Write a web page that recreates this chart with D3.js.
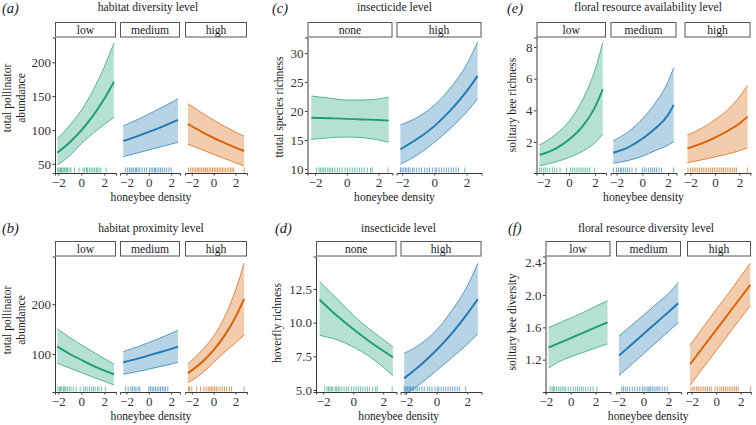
<!DOCTYPE html>
<html><head><meta charset="utf-8">
<script src="https://cdn.jsdelivr.net/npm/d3@7"></script>
<style>
body{margin:0;background:#fff}
svg{display:block;font-family:"Liberation Serif","Times New Roman",serif}
</style>
</head><body>
<svg id="chart" width="756" height="425"></svg>
<script>
// ---------- DATA ----------
const levels3 = ["low", "medium", "high"];
const levels2 = ["none", "high"];
const xTickVals = [-2, 0, 2];

// (a) habitat diversity level — total pollinator abundance
const aX   = [[-2.09,-1,0,1,2,2.84],[-2.29,-1,0,1,2,2.61],[-2.36,-1,0,1,2,2.8]];
const aFit = [[66.5,82,99.5,120.5,146,171.3],[83.8,91,97.1,103.6,110.4,114.8],[108.9,96.6,88.4,80.9,74,69]];
const aLo  = [[48.3,62,79.8,94.8,108.2,118.8],[60.6,66.2,70.5,74.9,79.2,81.8],[78.9,70.5,64,57.8,51.7,46.8]];
const aHi  = [[87.2,106.9,129,157.9,193.2,228.5],[105.9,115.5,123.5,132,140.5,146.2],[138.9,124.5,114.5,105.5,97,90.7]];
const aRug = [
  [-2.05,-1.95,-1.85,-1.78,-1.7,-1.6,-1.5,-1.42,-1.3,-1.2,-1.05,-0.9,-0.6,-0.2,0.15,0.3,0.45,0.55,0.7,0.85,1.0,1.15,1.3,1.4,1.55,1.7,2.15],
  [-2.1,-1.9,-1.75,-1.6,-1.5,-1.35,-1.2,-1.1,-0.95,-0.8,-0.6,-0.4,-0.2,0.05,0.2,0.35,0.5,0.6,0.75,0.9,1.05,1.2,1.4,1.6,1.8,2.0],
  [-2.3,-2.1,-1.95,-1.8,-1.65,-1.5,-1.4,-1.25,-1.1,-0.95,-0.8,-0.7,-0.55,-0.4,-0.25,-0.1,0.05,0.2,0.35,0.5,0.65,0.8,0.95,1.1,1.25,1.4,1.55,1.7,1.85,2.8]
];
const aYTicks = [50, 100, 150, 200];

// (b) habitat proximity level — total pollinator abundance
const bX   = [[-2.09,-1,0,1,2,2.84],[-2.29,-1,0,1,2,2.61],[-2.36,-1,0,1,2,2.8]];
const bFit = [[114.7,100,88,76.5,66.5,59.2],[83.3,90.5,97,103.5,110.3,114.7],[61.2,84.8,107.7,136.9,173.9,210.7]];
const bLo  = [[81.3,71.5,62.5,53.5,45,37.6],[59.2,64.5,69.5,74.5,79.5,83.3],[42.3,62.2,83,103.5,122.5,138.2]];
const bHi  = [[150.9,133,118.5,104.5,91,79.9],[104.6,114.5,123,132,141.5,147.7],[79.9,108.9,135.6,174,227.8,282.5]];
const bRug = [
  [-2.05,-1.9,-1.8,-1.7,-1.55,-1.45,-1.35,-1.2,-1.05,-0.9,-0.7,-0.45,-0.1,0.2,0.35,0.5,0.7,0.9,1.05,1.2,1.4,1.55,1.75,2.1],
  [-2.1,-1.85,-1.6,-1.45,-1.3,-1.15,-0.95,-0.8,0.0,0.15,0.3,0.45,0.6,0.75,0.9,1.05,1.2,1.35,1.5,1.7],
  [-2.3,-2.2,-2.0,-1.55,-1.2,-0.9,-0.7,-0.5,-0.35,-0.2,-0.05,0.1,0.25,0.4,0.6,0.8,1.0,1.2,1.45,1.65,2.8]
];
const bYTicks = [100, 200];

// (c) insecticide level — total species richness
const cX   = [[-2.24,-1,0,1,2,2.65],[-2.11,-1,0,1,2,2.69]];
const cFit = [[18.85,18.75,18.65,18.55,18.45,18.35],[13.4,15.3,17.4,20.1,23.4,26.08]];
const cLo  = [[15.1,15.4,15.5,15.4,15.0,14.6],[10.8,12.5,14.6,17.0,19.8,22.1]];
const cHi  = [[22.6,22.2,21.9,21.9,22.1,22.4],[17.6,19.0,21.0,24.0,28.0,31.9]];
const cRug = [
  [-1.9,-1.75,-1.65,-1.55,-1.45,-1.35,-1.2,-1.1,-1.0,-0.9,-0.75,-0.6,-0.45,-0.3,-0.1,0.05,0.2,0.35,0.5,0.65,0.8,0.95,1.1,1.3,1.5,1.6,2.6],
  [-2.1,-2.0,-1.9,-1.8,-1.7,-1.6,-1.5,-1.35,-1.25,-1.1,-0.95,-0.8,-0.6,-0.45,-0.3,-0.1,0.05,0.15,0.3,0.45,0.6,0.75,0.9,1.05,1.2,1.35,1.5,1.9]
];
const cYTicks = [10, 15, 20, 25, 30];

// (d) insecticide level — hoverfly richness
const dX   = [[-2.24,-1,0,1,2,2.65],[-2.11,-1,0,1,2,2.69]];
const dFit = [[11.7,10.43,9.52,8.68,7.91,7.43],[5.87,6.89,7.97,9.21,10.65,11.76]];
const dLo  = [[9.05,8.7,8.2,7.55,6.7,6.06],[4.63,5.5,6.45,7.4,8.4,9.16]];
const dHi  = [[13.04,11.7,10.55,9.6,8.75,8.21],[7.72,8.45,9.45,10.9,12.7,14.41]];
const dRug = [
  [-1.9,-1.75,-1.65,-1.55,-1.45,-1.35,-1.2,-1.1,-1.0,-0.9,-0.75,-0.6,-0.45,-0.3,-0.1,0.05,0.2,0.35,0.5,0.65,0.8,0.95,1.1,1.3,1.5,1.6,2.6],
  [-2.1,-2.0,-1.9,-1.8,-1.7,-1.6,-1.5,-1.35,-1.25,-1.1,-0.95,-0.8,-0.6,-0.45,-0.3,-0.1,0.05,0.15,0.3,0.45,0.6,0.75,0.9,1.05,1.2,1.35,1.5,1.9]
];
const dYTicks = [5, 7.5, 10, 12.5];

// (e) floral resource availability level — solitary bee richness
const eX   = [[-2.28,-1,0,1,2,2.6],[-2.25,-1,0,1,2,2.44],[-2.24,-1,0,1,2,2.66]];
const eFit = [[1.18,1.6,2.15,2.95,4.2,5.33],[1.32,1.7,2.2,2.85,3.7,4.34],[1.6,1.93,2.28,2.68,3.17,3.6]];
const eLo  = [[0.5,0.75,1.02,1.4,1.95,2.51],[0.65,0.85,1.1,1.45,1.8,2.02],[0.69,0.88,1.05,1.23,1.45,1.64]];
const eHi  = [[1.81,2.5,3.3,4.6,6.55,8.27],[2.08,2.7,3.45,4.45,5.8,6.69],[2.44,2.9,3.4,4.0,4.85,5.56]];
const eRug = [
  [-2.3,-2.15,-2.0,-1.85,-1.7,-1.5,-1.3,-1.15,-0.95,-0.7,-0.2,0.1,0.25,0.4,0.55,0.7,0.85,1.0,1.15,1.3,1.45,1.6,1.95],
  [-2.25,-2.0,-1.85,-1.7,-1.6,-1.45,-1.3,-1.15,-1.0,-0.8,-0.5,0.0,0.15,0.3,0.5,0.65,0.8,0.95,1.1,1.3,1.5,2.44],
  [-2.2,-2.0,-1.85,-1.7,-1.55,-1.4,-1.25,-1.1,-0.95,-0.8,-0.65,-0.5,-0.35,-0.2,-0.05,0.1,0.25,0.4,0.55,0.7,0.85,1.0,1.15,1.3,1.45,1.6,1.75,2.65]
];
const eYTicks = [2, 4, 6, 8];

// (f) floral resource diversity level — solitary bee diversity
const fX   = [[-1.79,-1,0,1,2,2.96],[-1.96,-1,0,1,2,2.78],[-2.13,-1,0,1,2,2.78]];
const fFit = [[1.349,1.401,1.467,1.533,1.599,1.663],[1.25,1.381,1.518,1.655,1.791,1.898],[1.143,1.369,1.569,1.769,1.969,2.125]];
const fLo  = [[1.094,1.17,1.235,1.29,1.345,1.394],[1.002,1.135,1.273,1.411,1.55,1.658],[0.887,1.113,1.313,1.513,1.713,1.868]];
const fHi  = [[1.596,1.65,1.715,1.785,1.86,1.93],[1.493,1.62,1.75,1.885,2.02,2.153],[1.382,1.615,1.82,2.02,2.23,2.393]];
const fRug = [
  [-1.65,-1.5,-1.4,-1.3,-1.15,-1.0,-0.85,-0.7,-0.55,-0.4,-0.2,0.0,0.2,0.4,0.55,0.7,0.85,1.0,1.2,1.4,1.6,1.8,2.1],
  [-1.75,-1.6,-1.45,-1.3,-1.1,-0.9,-0.7,-0.5,-0.3,-0.1,0.05,0.2,0.35,0.45,0.55,0.7,0.85,1.0,1.15,1.3,1.5,1.7,1.9],
  [-2.05,-1.9,-1.75,-1.6,-1.45,-1.3,-1.15,-1.0,-0.85,-0.7,-0.55,-0.4,-0.1,0.1,0.3,0.45,0.6,0.75,0.9,1.05,1.2,1.35,1.5,1.65,1.8,2.8]
];
const fYTicks = [1.2, 1.6, 2.0, 2.4];

// ---------- LAYOUT / STYLE ----------
const COLORS = {low:"#1b9e77", medium:"#1f78b4", high:"#d95f02"};
const COLORS2 = {none:"#1b9e77", high:"#1f78b4"};
const rows = [
  {stripTop:22, stripBot:37.5, bottom:173, titleY:11, letterY:13, xTitleY:201},
  {stripTop:241, stripBot:256.5, bottom:392, titleY:232, letterY:233, xTitleY:420}
];

const panels = [
  {letter:"a", row:0, title:"habitat diversity level", ylab:["total pollinator","abundance"], levels:levels3,
   X:aX, fit:aFit, lo:aLo, hi:aHi, rug:aRug, yTicks:aYTicks, fmt:d3.format("d"),
   facets:[[55,116],[120,180],[185,247]], xDom:[[-2.29,3.02],[-2.58,2.79],[-2.62,3.06]], yDom:[36.5,236.6],
   letterX:2, titleX:148, ylabX:[11,25], ylabY:98},
  {letter:"b", row:1, title:"habitat proximity level", ylab:["total pollinator","abundance"], levels:levels3,
   X:bX, fit:bFit, lo:bLo, hi:bHi, rug:bRug, yTicks:bYTicks, fmt:d3.format("d"),
   facets:[[55,116],[120,180],[185,247]], xDom:[[-2.29,3.02],[-2.58,2.79],[-2.62,3.06]], yDom:[23.5,296],
   letterX:2, titleX:151, ylabX:[11,25], ylabY:320},
  {letter:"c", row:0, title:"insecticide level", ylab:["ttotal species richness"], levels:levels2,
   X:cX, fit:cFit, lo:cLo, hi:cHi, rug:cRug, yTicks:cYTicks, fmt:d3.format("d"),
   facets:[[307.5,392.5],[396.5,481.5]], xDom:[[-2.48,2.89],[-2.35,2.93]], yDom:[9.3,32.7],
   letterX:272, titleX:394.5, ylabX:[283], ylabY:107},
  {letter:"d", row:1, title:"insecticide level", ylab:["hoverfly richness"], levels:levels2,
   X:dX, fit:dFit, lo:dLo, hi:dHi, rug:dRug, yTicks:dYTicks, fmt:d3.format(".1f"),
   facets:[[316,396.5],[400.5,481.5]], xDom:[[-2.48,2.89],[-2.35,2.93]], yDom:[4.85,14.91],
   letterX:275, titleX:398.5, ylabX:[281], ylabY:323},
  {letter:"e", row:0, title:"floral resource availability level", ylab:["solitary bee richness"], levels:levels3,
   X:eX, fit:eFit, lo:eLo, hi:eHi, rug:eRug, yTicks:eYTicks, fmt:d3.format("d"),
   facets:[[536.5,606],[610.5,676.5],[684.5,750.5]], xDom:[[-2.52,2.85],[-2.47,2.66],[-2.48,2.9]], yDom:[0.04,8.6],
   letterX:507, titleX:648, ylabX:[516], ylabY:105},
  {letter:"f", row:1, title:"floral resource diversity level", ylab:["solitary bee diversity"], levels:levels3,
   X:fX, fit:fFit, lo:fLo, hi:fHi, rug:fRug, yTicks:fYTicks, fmt:d3.format(".1f"),
   facets:[[545.5,610.5],[616,681],[687,751]], xDom:[[-2.03,3.2],[-2.2,3.0],[-2.38,2.84]], yDom:[0.80,2.477],
   letterX:508, titleX:646, ylabX:[516], ylabY:322}
];

// ---------- DRAW ----------
const svg = d3.select("#chart");
const TXT = "#1a1a1a", AX = "#3a3a3a", TICKTXT = "#333";
const xFmt = d3.format("d");
const FS = 11.6, TFS = 13;

panels.forEach(p => {
  const r = rows[p.row];
  const g = svg.append("g");
  const y = d3.scaleLinear().domain(p.yDom).range([r.bottom, r.stripBot]);
  const left = p.facets[0][0], right = p.facets[p.facets.length-1][1];
  const colFor = lv => (p.levels.length === 2 ? COLORS2[lv] : COLORS[lv]);

  p.levels.forEach((lv, i) => {
    const x = d3.scaleLinear().domain(p.xDom[i]).range(p.facets[i]);
    const col = colFor(lv);
    const pts = p.X[i].map((xv, k) => ({x:xv, f:p.fit[i][k], lo:p.lo[i][k], hi:p.hi[i][k]}));
    const fg = g.append("g");

    fg.append("path").datum(pts)
      .attr("d", d3.area().x(d => x(d.x)).y0(d => y(d.lo)).y1(d => y(d.hi)).curve(d3.curveMonotoneX))
      .attr("fill", col).attr("fill-opacity", 0.32).attr("stroke", "none");
    ["lo","hi"].forEach(k => {
      fg.append("path").datum(pts)
        .attr("d", d3.line().x(d => x(d.x)).y(d => y(d[k])).curve(d3.curveMonotoneX))
        .attr("fill", "none").attr("stroke", col).attr("stroke-width", 0.7);
    });
    fg.append("path").datum(pts)
      .attr("d", d3.line().x(d => x(d.x)).y(d => y(d.f)).curve(d3.curveMonotoneX))
      .attr("fill", "none").attr("stroke", col).attr("stroke-width", 1.9);

    // rug
    fg.selectAll("line.rug").data(p.rug[i]).enter().append("line")
      .attr("class", "rug")
      .attr("x1", d => x(d)).attr("x2", d => x(d))
      .attr("y1", r.bottom - 5.5).attr("y2", r.bottom - 0.5)
      .attr("stroke", col).attr("stroke-width", 1).attr("stroke-opacity", 0.65);

    // strip
    const sx0 = p.facets[i][0], sx1 = p.facets[i][1];
    g.append("rect").attr("x", sx0 + 0.5).attr("y", r.stripTop + 0.5)
      .attr("width", sx1 - sx0 - 1).attr("height", r.stripBot - r.stripTop - 1)
      .attr("fill", "#fff").attr("stroke", "#555").attr("stroke-width", 1);
    g.append("text").attr("x", (sx0 + sx1) / 2).attr("y", (r.stripTop + r.stripBot) / 2 + 4)
      .attr("text-anchor", "middle").attr("font-size", FS).attr("fill", TXT).text(lv);

    // x axis
    const xa = g.append("g").attr("transform", `translate(0,${r.bottom})`)
      .call(d3.axisBottom(x).tickValues(xTickVals).tickFormat(xFmt).tickSizeOuter(0).tickSize(2.5).tickPadding(2));
    xa.select(".domain").attr("stroke", AX);
    xa.selectAll(".tick line").attr("stroke", AX);
    xa.selectAll("text").attr("font-size", TFS).attr("fill", TICKTXT).attr("font-family", "Liberation Serif, serif");
  });

  // y axis
  const ya = g.append("g").attr("transform", `translate(${left},0)`)
    .call(d3.axisLeft(y).tickValues(p.yTicks).tickFormat(p.fmt).tickSizeOuter(0).tickSize(2.5).tickPadding(1.5));
  ya.select(".domain").attr("stroke", AX);
  ya.selectAll(".tick line").attr("stroke", AX);
  ya.selectAll("text").attr("font-size", TFS).attr("fill", TICKTXT).attr("font-family", "Liberation Serif, serif");

  // titles
  const cx = (left + right) / 2;
  g.append("text").attr("x", p.titleX).attr("y", r.titleY).attr("text-anchor", "middle")
    .attr("font-size", FS).attr("fill", TXT).text(p.title);
  g.append("text").attr("x", cx).attr("y", r.xTitleY).attr("text-anchor", "middle")
    .attr("font-size", FS).attr("fill", TXT).text("honeybee density");
  g.append("text").attr("x", p.letterX).attr("y", r.letterY)
    .attr("font-size", 14.5).attr("font-style", "italic").attr("fill", TXT).text(`(${p.letter})`);
  p.ylab.forEach((t, k) => {
    g.append("text").attr("transform", `translate(${p.ylabX[k]},${p.ylabY}) rotate(-90)`)
      .attr("text-anchor", "middle").attr("font-size", FS).attr("fill", TXT).text(t);
  });
});
</script>
</body></html>
